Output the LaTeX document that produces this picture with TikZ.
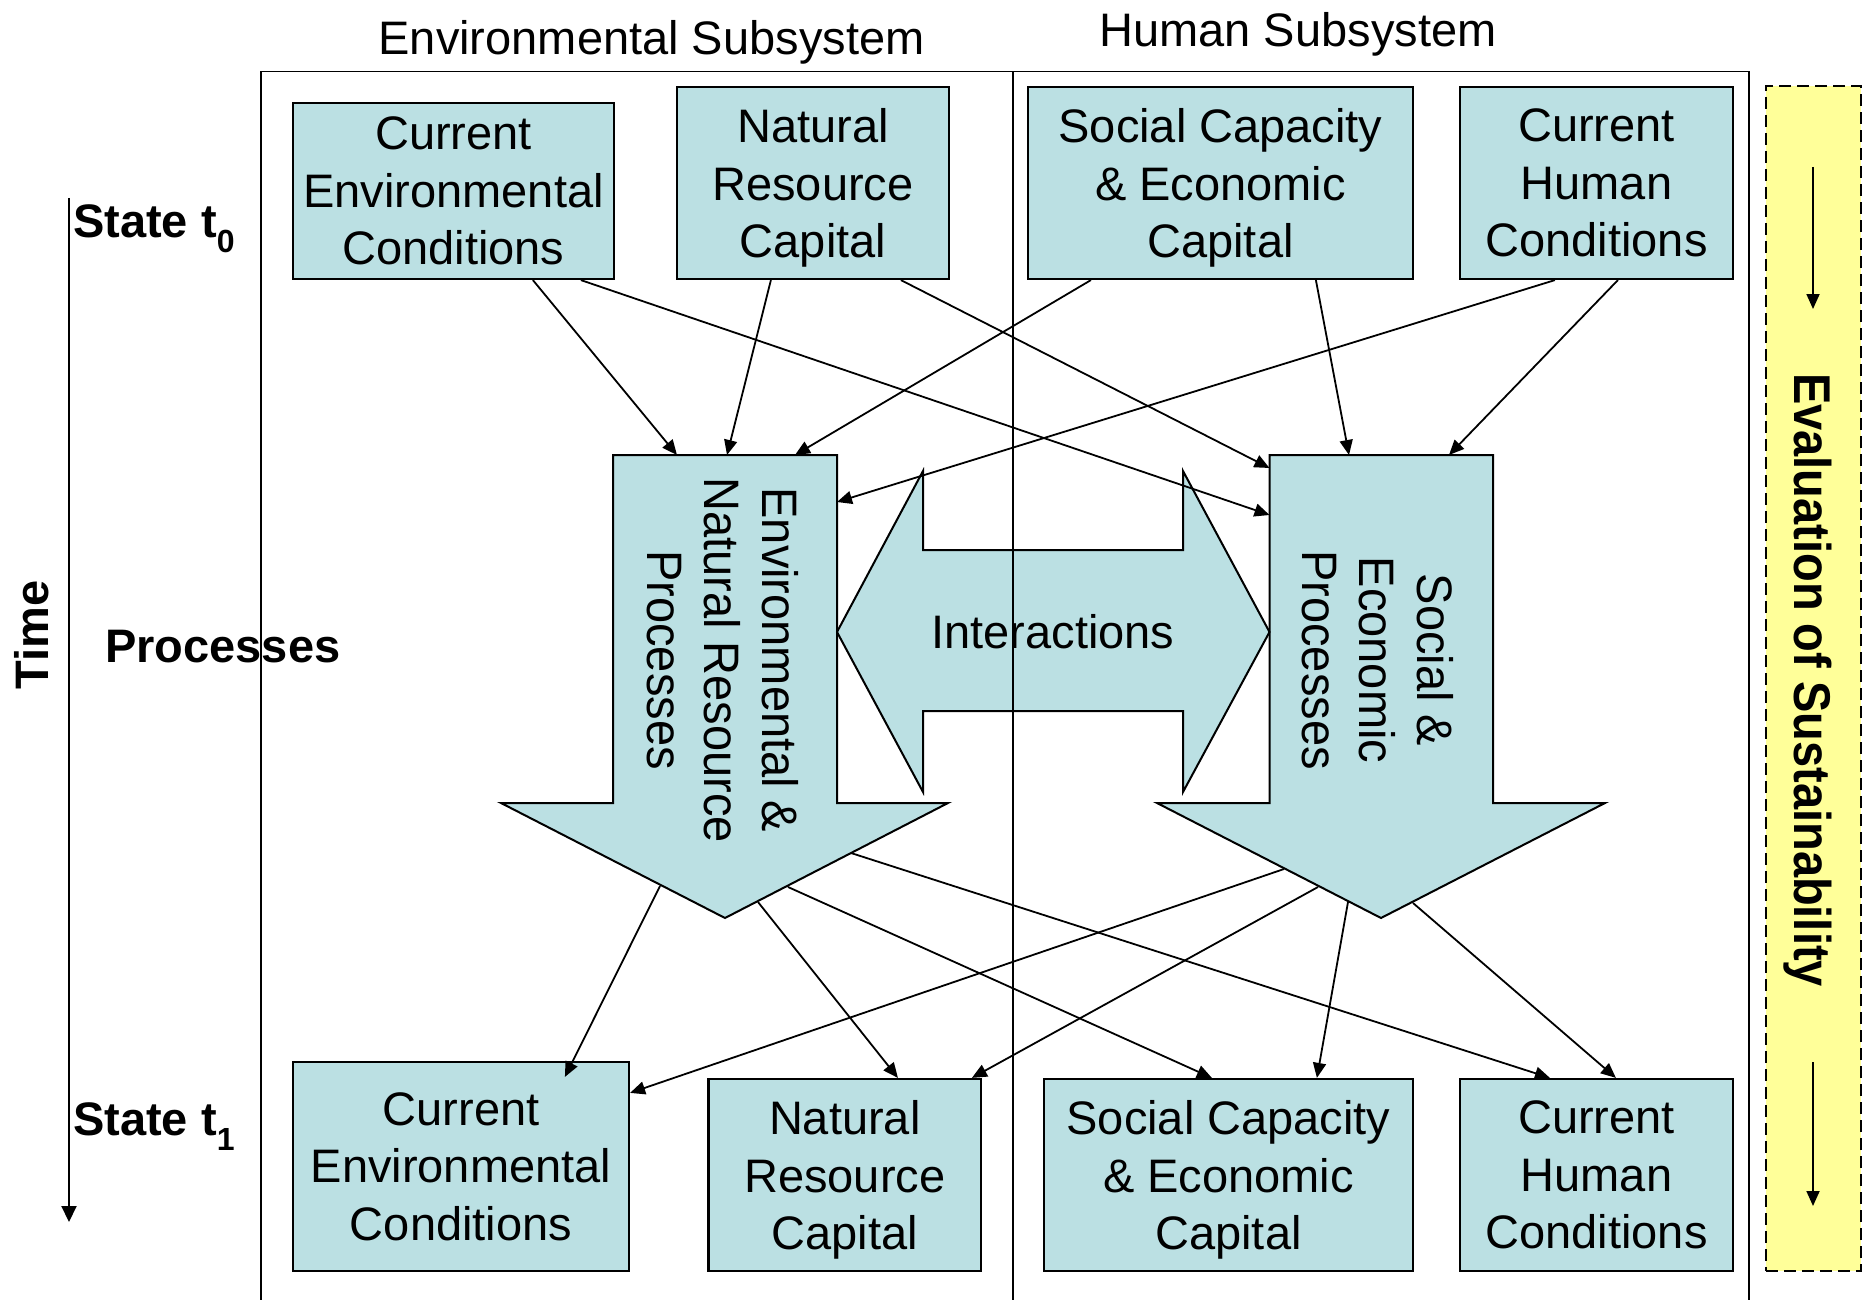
\documentclass[tikz,border=0pt]{standalone}
\usepackage{fontspec}
\setmainfont{Liberation Sans}
\usetikzlibrary{arrows.meta}
\definecolor{boxfill}{RGB}{187,224,227}
\definecolor{evalfill}{RGB}{255,255,153}
\begin{document}
\begin{tikzpicture}[x=1pt,y=-1pt,
  infobox/.style={draw, line width=2.2pt, fill=boxfill, inner sep=0pt, align=center, text depth=0pt,
    font=\fontsize{47}{57.5}\selectfont},
  conn/.style={line width=1.8pt, -{Triangle[length=15pt,width=13pt]}},
  bigarrow/.style={draw, line width=2pt, fill=boxfill, line join=miter},
  framel/.style={line width=1.6pt},
  lbl/.style={font=\fontsize{47}{57.5}\selectfont\bfseries, inner sep=0pt},
  heading/.style={font=\fontsize{47}{57.5}\selectfont, inner sep=0pt},
  rottext/.style={font=\fontsize{47}{54}\selectfont, inner sep=0pt, align=center, text depth=0pt}
]
\useasboundingbox (0,0) rectangle (1872,1300);

% evaluation column
\node[draw, dashed, dash pattern=on 12pt off 6pt, line width=2pt, fill=evalfill,
      minimum width=95pt, minimum height=1185pt, inner sep=0pt] (evalbox) at (1813.5,678.5) {};
\node[lbl, rotate=-90, yscale=1.1, anchor=base] (evaltxt) at (1794,680) {Evaluation of Sustainability};
\coordinate (ea1) at (1813,167); \coordinate (ea2) at (1813,309);
\coordinate (eb1) at (1813,1062); \coordinate (eb2) at (1813,1206);
\draw[conn] (ea1) -- (ea2);
\draw[conn] (eb1) -- (eb2);

% headings and side labels
\node[heading, anchor=base] (envhead) at (651.5,55) {Environmental Subsystem};
\node[heading, anchor=base] (humhead) at (1298,47) {Human Subsystem};
\node[lbl, anchor=base west] (st0) at (73,238) {State t\raisebox{-15pt}{\fontsize{32}{32}\selectfont 0}};
\node[lbl, anchor=base west] (st1) at (73,1135) {State t\raisebox{-15pt}{\fontsize{32}{32}\selectfont 1}};
\node[lbl, anchor=base west] (proc) at (105,662) {Processes};
\node[lbl, rotate=90, anchor=base] (time) at (48,635) {Time};
\coordinate (ta1) at (69,198); \coordinate (ta2) at (69,1222);
\draw[line width=2pt, -{Triangle[length=16pt,width=15pt]}] (ta1) -- (ta2);

% big process arrows
\draw[bigarrow] (613,455) -- (837,455) -- (837,803) -- (948,803) -- (725,918) -- (501,803) -- (613,803) -- cycle;
\draw[bigarrow] (1269.5,455) -- (1493,455) -- (1493,803) -- (1605,803) -- (1381,918) -- (1157,803) -- (1269.5,803) -- cycle;
\node[rottext, rotate=-90, yscale=1.06] (procL) at (723,660) {Environmental \&\\Natural Resource\\Processes};
\node[rottext, rotate=-90, yscale=1.06] (procR) at (1378,660) {Social \&\\Economic\\Processes};

% interactions double arrow
\draw[bigarrow] (837,632) -- (923,471) -- (923,550) -- (1183,550) -- (1183,471) -- (1269.5,632)
  -- (1183,792) -- (1183,711) -- (923,711) -- (923,792) -- cycle;
\node[heading, anchor=base] (inter) at (1053,648) {Interactions};

% frame
\draw[framel] (261,1300) -- (261,71.6) -- (1749,71.6) -- (1749,1300);
\draw[framel] (1013,71.6) -- (1013,1300);

% state boxes
\node[infobox, minimum width=321pt, minimum height=176pt] (cecT) at (453.5,191) {Current\\Environmental\\Conditions};
\node[infobox, minimum width=272pt, minimum height=192pt] (nrcT) at (813,183) {Natural\\Resource\\Capital};
\node[infobox, minimum width=385pt, minimum height=192pt] (scecT) at (1220.5,183) {Social Capacity\\\& Economic\\Capital};
\node[infobox, minimum width=273pt, minimum height=192pt] (chcT) at (1596.5,183) {Current\\Human\\Conditions};
\node[infobox, minimum width=336pt, minimum height=209pt] (cecB) at (461,1166.5) {Current\\Environmental\\Conditions};
\node[infobox, minimum width=272.5pt, minimum height=192pt] (nrcB) at (844.75,1175) {Natural\\Resource\\Capital};
\node[infobox, minimum width=369pt, minimum height=192pt] (scecB) at (1228.5,1175) {Social Capacity\\\& Economic\\Capital};
\node[infobox, minimum width=273pt, minimum height=192pt] (chcB) at (1596.5,1175) {Current\\Human\\Conditions};

% connector end points on the process arrows
\coordinate (LT1) at (677,455); \coordinate (LT3) at (727,455); \coordinate (LT5) at (795,455); \coordinate (LR7) at (837,502);
\coordinate (RL2) at (1269.5,515); \coordinate (RL4) at (1269.5,468); \coordinate (RT6) at (1349,455); \coordinate (RT8) at (1449,455);
\coordinate (LB1) at (660,886); \coordinate (LB2) at (758,902); \coordinate (LB3) at (788,887); \coordinate (LB4) at (851,853);
\coordinate (RB5) at (1284,869); \coordinate (RB6) at (1318,887); \coordinate (RB7) at (1348,902); \coordinate (RB8) at (1413,903);

% state t0 -> processes
\draw[conn] ([xshift=241pt]cecT.south west) -- (LT1);
\draw[conn] ([xshift=289pt]cecT.south west) -- (RL2);
\draw[conn] ([xshift=95pt]nrcT.south west) -- (LT3);
\draw[conn] ([xshift=225pt]nrcT.south west) -- (RL4);
\draw[conn] ([xshift=64pt]scecT.south west) -- (LT5);
\draw[conn] ([xshift=289pt]scecT.south west) -- (RT6);
\draw[conn] ([xshift=96pt]chcT.south west) -- (LR7);
\draw[conn] ([xshift=159pt]chcT.south west) -- (RT8);

% processes -> state t1
\draw[conn] (LB1) -- ([xshift=273pt,yshift=-16pt]cecB.north west);
\draw[conn] (LB2) -- ([xshift=190.5pt]nrcB.north west);
\draw[conn] (LB3) -- ([xshift=169pt]scecB.north west);
\draw[conn] (LB4) -- ([xshift=91pt]chcB.north west);
\draw[conn] (RB5) -- ([yshift=-32pt]cecB.north east);
\draw[conn] (RB6) -- ([xshift=264.5pt]nrcB.north west);
\draw[conn] (RB7) -- ([xshift=274pt]scecB.north west);
\draw[conn] (RB8) -- ([xshift=157pt]chcB.north west);
\end{tikzpicture}
\end{document}
